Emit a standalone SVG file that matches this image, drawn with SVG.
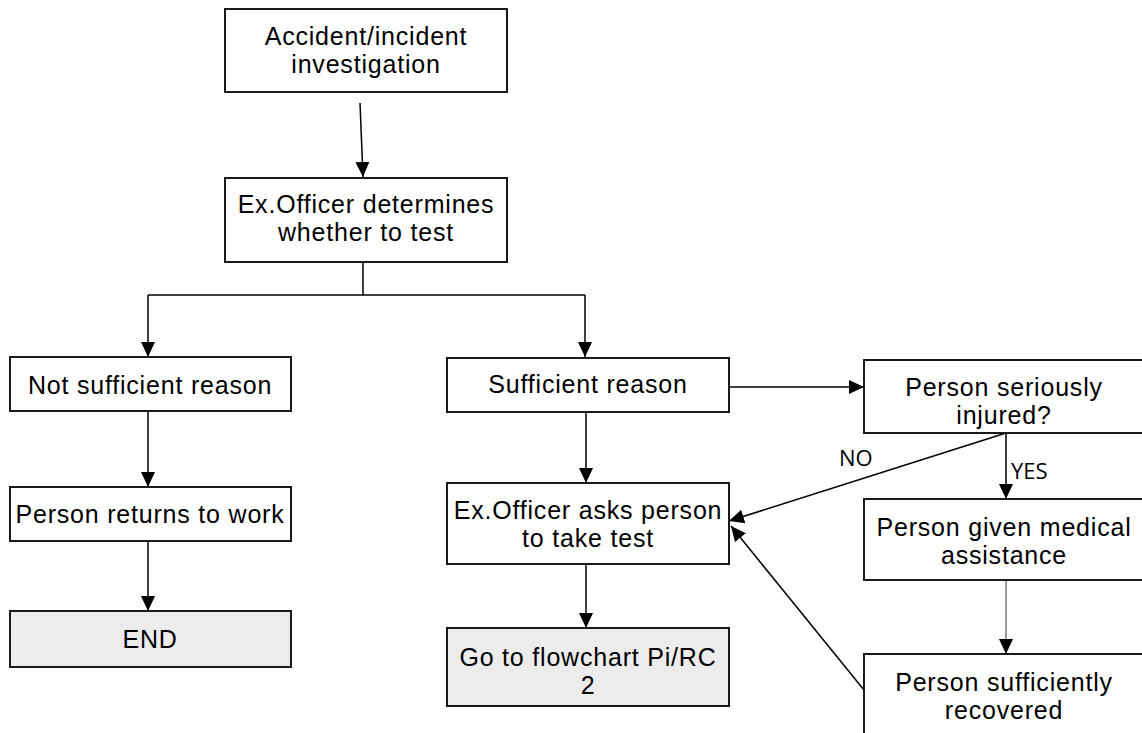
<svg xmlns="http://www.w3.org/2000/svg" width="1142" height="733" viewBox="0 0 1142 733">
<defs>
<marker id="ah" markerUnits="userSpaceOnUse" markerWidth="16" markerHeight="16" viewBox="0 0 16 16" refX="15" refY="8" orient="auto">
<path d="M0,1 L15,8 L0,15 Z" fill="#000"/>
</marker>
</defs>
<style>
rect.n{fill:#fff;stroke:#1a1a1a;stroke-width:2}
rect.g{fill:#ececec;stroke:#1a1a1a;stroke-width:2}
text.t{font-family:"Liberation Sans",Arial,sans-serif;font-size:25px;letter-spacing:0.8px;fill:#000;text-anchor:middle}
text.l{font-family:"Open Sans","Noto Sans",sans-serif;font-size:22px;fill:#000}
.c{fill:none;stroke:#000;stroke-width:1.5}
</style>
<rect width="1142" height="733" fill="#fff"/>
<g id="connectors">
<line class="c" x1="360" y1="103" x2="363" y2="177" marker-end="url(#ah)"/>
<polyline class="c" points="363,262 363,295"/>
<polyline class="c" points="148,295 585,295"/>
<line class="c" x1="148" y1="295" x2="148" y2="357" marker-end="url(#ah)"/>
<line class="c" x1="585" y1="295" x2="585" y2="357" marker-end="url(#ah)"/>
<line class="c" x1="148" y1="411" x2="148" y2="487" marker-end="url(#ah)"/>
<line class="c" x1="148" y1="541" x2="148" y2="611" marker-end="url(#ah)"/>
<line class="c" x1="586" y1="412" x2="586" y2="483" marker-end="url(#ah)"/>
<line class="c" x1="586" y1="564" x2="586" y2="628" marker-end="url(#ah)"/>
<line class="c" x1="729" y1="387" x2="864" y2="387" marker-end="url(#ah)"/>
<line class="c" x1="1006" y1="433" x2="1006" y2="499" marker-end="url(#ah)"/>
<line class="c" x1="1006" y1="433" x2="729" y2="521" marker-end="url(#ah)"/>
<line x1="1006" y1="580" x2="1006" y2="654" stroke="#777" stroke-width="1.5" marker-end="url(#ah)"/>
<line class="c" x1="864" y1="690" x2="731" y2="526" marker-end="url(#ah)"/>
<text class="l" x="839" y="466">NO</text>
<text class="l" x="1011" y="479">YES</text>
</g>
<g id="n1"><rect class="n" x="225" y="9" width="282" height="83"/>
<text class="t" x="366" y="45">Accident/incident</text><text class="t" x="366" y="73">investigation</text></g>
<g id="n2"><rect class="n" x="225" y="178" width="282" height="84"/>
<text class="t" x="366" y="213">Ex.Officer determines</text><text class="t" x="366" y="241">whether to test</text></g>
<g id="n3"><rect class="n" x="10" y="357" width="281" height="54"/>
<text class="t" x="150" y="394">Not sufficient reason</text></g>
<g id="n4"><rect class="n" x="10" y="487" width="281" height="54"/>
<text class="t" x="150" y="523">Person returns to work</text></g>
<g id="n5"><rect class="g" x="10" y="611" width="281" height="56"/>
<text class="t" x="150" y="648">END</text></g>
<g id="n6"><rect class="n" x="447" y="358" width="282" height="54"/>
<text class="t" x="588" y="393">Sufficient reason</text></g>
<g id="n7"><rect class="n" x="447" y="483" width="282" height="81"/>
<text class="t" x="588" y="519">Ex.Officer asks person</text><text class="t" x="588" y="547">to take test</text></g>
<g id="n8"><rect class="g" x="447" y="628" width="282" height="78"/>
<text class="t" x="588" y="666">Go to flowchart Pi/RC</text><text class="t" x="588" y="694">2</text></g>
<g id="n9"><rect class="n" x="864" y="360" width="290" height="73"/>
<text class="t" x="1004" y="396">Person seriously</text><text class="t" x="1004" y="424">injured?</text></g>
<g id="n10"><rect class="n" x="864" y="499" width="290" height="81"/>
<text class="t" x="1004" y="536">Person given medical</text><text class="t" x="1004" y="564">assistance</text></g>
<g id="n11"><rect class="n" x="864" y="654" width="290" height="90"/>
<text class="t" x="1004" y="691">Person sufficiently</text><text class="t" x="1004" y="719">recovered</text></g>
</svg>
